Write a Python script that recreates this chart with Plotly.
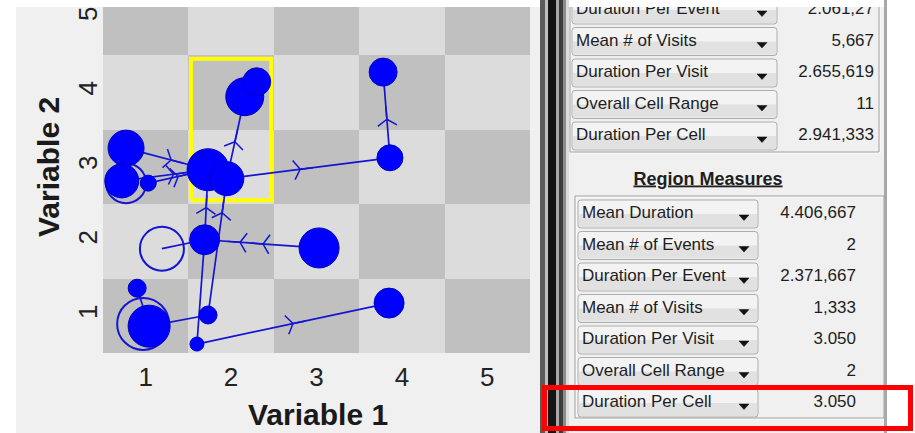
import plotly.graph_objects as go

W, H = 915, 433

# ---------------- data ----------------
grid_values = [1, 2, 3, 4, 5]
tick_text = ["1", "2", "3", "4", "5"]
x_title = "Variable 1"
y_title = "Variable 2"

# trajectory nodes (state space grid positions, jittered inside cells)
node_x = [0.77, 0.72, 1.03, 1.73, 1.95, 2.16, 2.30, 3.78, 3.86, 3.03, 3.85, 1.69, 1.19, 1.04, 0.90, 1.73, 1.60]
node_y = [3.25, 2.81, 2.78, 2.96, 2.84, 3.94, 4.14, 4.27, 3.12, 1.91, 1.17, 2.02, 1.90, 0.86, 1.37, 1.01, 0.62]
node_duration = [9, 8.5, 4, 10.5, 8.5, 9.5, 7, 7, 6.5, 10, 7.5, 7.5, 11, 10.5, 4.5, 4.5, 3.5]
node_filled = [1, 1, 1, 1, 1, 1, 1, 1, 1, 1, 1, 1, 0, 1, 1, 1, 1]

# return-visit rings
ring_x = [0.77, 0.97]
ring_y = [2.78, 0.89]
ring_duration = [10, 13]

# transitions (from node, to node, arrow positions along the edge)
edge_from = [0, 1, 2, 4, 4, 8, 11, 15, 9, 12, 13, 14, 16, 11]
edge_to = [3, 3, 3, 5, 8, 7, 3, 4, 11, 11, 15, 13, 10, 16]
edge_arrows = [[0.55], [0.6], [0.5], [0.45], [0.45], [0.45], [0.46], [0.75], [0.49, 0.69], [], [], [], [0.5], []]

selected_region = [1.5, 2.5, 2.5, 4.5]  # x0, x1, y0, y1

overall_labels = ["Duration Per Event", "Mean # of Visits", "Duration Per Visit", "Overall Cell Range", "Duration Per Cell"]
overall_values = ["2.061,27", "5,667", "2.655,619", "11", "2.941,333"]
region_title = "Region Measures"
region_labels = ["Mean Duration", "Mean # of Events", "Duration Per Event", "Mean # of Visits",
                 "Duration Per Visit", "Overall Cell Range", "Duration Per Cell"]
region_values = ["4.406,667", "2", "2.371,667", "1,333", "3.050", "2", "3.050"]

# ---------------- styles ----------------
FONT = "Liberation Sans, Arial, sans-serif"
BLUE = "#0000ff"
LINE_BLUE = "#1414d2"
SIZE_PER_UNIT = 4


def px(x):
    return x / W


def py(y):
    return 1 - y / H


fig = go.Figure()

# checkerboard
z = [[1 if (gx + gy) % 2 == 0 else 0 for gx in grid_values] for gy in grid_values]
fig.add_trace(go.Heatmap(x=grid_values, y=grid_values, z=z, zmin=0, zmax=1,
                         colorscale=[[0, "#dcdcdc"], [1, "#c0c0c0"]], showscale=False, hoverinfo="skip"))

# selected region outline
rx0, rx1, ry0, ry1 = selected_region
ix, iy = 0.03, 0.05
fig.add_trace(go.Scatter(x=[rx0 + ix, rx1 - ix, rx1 - ix, rx0 + ix, rx0 + ix],
                         y=[ry0 + iy, ry0 + iy, ry1 - iy, ry1 - iy, ry0 + iy],
                         mode="lines", line=dict(color="#ffff00", width=4), hoverinfo="skip", showlegend=False))

# edges with arrow chevrons
for f, t, arrows in zip(edge_from, edge_to, edge_arrows):
    x0, y0, x1, y1 = node_x[f], node_y[f], node_x[t], node_y[t]
    xs = [x0] + [x0 + a * (x1 - x0) for a in arrows] + [x1]
    ys = [y0] + [y0 + a * (y1 - y0) for a in arrows] + [y1]
    sizes = [0] + [16] * len(arrows) + [0]
    fig.add_trace(go.Scatter(x=xs, y=ys, mode="lines+markers",
                             line=dict(color=LINE_BLUE, width=1.7),
                             marker=dict(symbol="y-up-open", size=sizes, angleref="previous", opacity=1,
                                         color=LINE_BLUE, line=dict(color=LINE_BLUE, width=1.5)),
                             hoverinfo="skip", showlegend=False))

# rings
fig.add_trace(go.Scatter(x=ring_x, y=ring_y, mode="markers",
                         marker=dict(size=[d * SIZE_PER_UNIT for d in ring_duration], color="rgba(0,0,0,0)",
                                     opacity=1, line=dict(color=LINE_BLUE, width=2)),
                         hoverinfo="skip", showlegend=False))

# nodes
hx = [x for x, fl in zip(node_x, node_filled) if not fl]
hy = [y for y, fl in zip(node_y, node_filled) if not fl]
hs = [d * SIZE_PER_UNIT for d, fl in zip(node_duration, node_filled) if not fl]
fig.add_trace(go.Scatter(x=hx, y=hy, mode="markers",
                         marker=dict(size=hs, color="rgba(0,0,0,0)", opacity=1,
                                     line=dict(color=LINE_BLUE, width=2)),
                         hoverinfo="skip", showlegend=False))
fx = [x for x, fl in zip(node_x, node_filled) if fl]
fy = [y for y, fl in zip(node_y, node_filled) if fl]
fs = [d * SIZE_PER_UNIT for d, fl in zip(node_duration, node_filled) if fl]
fig.add_trace(go.Scatter(x=fx, y=fy, mode="markers",
                         marker=dict(size=fs, color=BLUE, opacity=1, line=dict(color="#0000c0", width=1)),
                         hoverinfo="skip", showlegend=False))

# ---------------- measures panel ----------------
shapes = []


def rounded_path(x0, y0, x1, y1, r):
    return (f"M{x0 + r},{y0} L{x1 - r},{y0} Q{x1},{y0} {x1},{y0 + r} L{x1},{y1 - r} "
            f"Q{x1},{y1} {x1 - r},{y1} L{x0 + r},{y1} Q{x0},{y1} {x0},{y1 - r} "
            f"L{x0},{y0 + r} Q{x0},{y0} {x0 + r},{y0} Z")


def add_button(x0, x1, cy, arrow_x):
    y0, y1 = cy - 14, cy + 14
    shapes.append(dict(type="path", xref="x2", yref="y2", layer="below",
                       path=rounded_path(x0, y0, x1, y1, 3), fillcolor="#f3f3f3", line=dict(width=0)))
    shapes.append(dict(type="rect", xref="x2", yref="y2", layer="below",
                       x0=x0 + 1, x1=x1 - 1, y0=cy, y1=y1 - 1, fillcolor="#e1e1e1", line=dict(width=0)))
    shapes.append(dict(type="path", xref="x2", yref="y2", layer="below",
                       path=rounded_path(x0, y0, x1, y1, 3), fillcolor="rgba(0,0,0,0)",
                       line=dict(color="#adadad", width=1)))
    shapes.append(dict(type="path", xref="x2", yref="y2", layer="below",
                       path=f"M{arrow_x - 5},{cy + 1} L{arrow_x + 5},{cy + 1} L{arrow_x},{cy + 6.5} Z",
                       fillcolor="#111111", line=dict(color="#111111", width=0.5)))


# group boxes
for (bx0, bx1, by0, by1) in [(570, 879, -10, 152), (575, 884, 196, 418)]:
    shapes.append(dict(type="rect", xref="x2", yref="y2", layer="below", x0=bx0 + 1, x1=bx1 + 1,
                       y0=by0 + 1, y1=by1 + 1, line=dict(color="#ffffff", width=1), fillcolor="rgba(0,0,0,0)"))
    shapes.append(dict(type="rect", xref="x2", yref="y2", layer="below", x0=bx0, x1=bx1,
                       y0=by0, y1=by1, line=dict(color="#a0a0a0", width=1), fillcolor="rgba(0,0,0,0)"))

up_cy = [10 + 31.5 * i for i in range(len(overall_labels))]
lo_cy = [214 + 31.5 * i for i in range(len(region_labels))]
for cy in up_cy:
    add_button(572, 777, cy, 762)
for cy in lo_cy:
    add_button(578, 758, cy, 744)

text_font = dict(family=FONT, size=17, color="#1e1e1e")
fig.add_trace(go.Scatter(x=[576] * len(up_cy), y=up_cy, text=overall_labels, mode="text",
                         textposition="middle right", textfont=text_font, xaxis="x2", yaxis="y2",
                         hoverinfo="skip", showlegend=False))
fig.add_trace(go.Scatter(x=[874] * len(up_cy), y=up_cy, text=overall_values, mode="text",
                         textposition="middle left", textfont=text_font, xaxis="x2", yaxis="y2",
                         hoverinfo="skip", showlegend=False))
fig.add_trace(go.Scatter(x=[582] * len(lo_cy), y=lo_cy, text=region_labels, mode="text",
                         textposition="middle right", textfont=text_font, xaxis="x2", yaxis="y2",
                         hoverinfo="skip", showlegend=False))
fig.add_trace(go.Scatter(x=[856] * len(lo_cy), y=lo_cy, text=region_values, mode="text",
                         textposition="middle left", textfont=text_font, xaxis="x2", yaxis="y2",
                         hoverinfo="skip", showlegend=False))
fig.add_trace(go.Scatter(x=[708], y=[180], text=[f"<b><u>{region_title}</u></b>"], mode="text",
                         textposition="middle center",
                         textfont=dict(family=FONT, size=18, color="#1e1e1e"),
                         xaxis="x2", yaxis="y2", hoverinfo="skip", showlegend=False))

# paper-level decoration
shapes.append(dict(type="rect", xref="paper", yref="paper", layer="below",
                   x0=px(16), x1=px(540), y0=py(433), y1=py(7), fillcolor="#f0f0f0", line=dict(width=0)))
frame = [(540, 545, "#5a5a5a"), (545, 548, "#bdbdbd"), (548, 556, "#141414"), (556, 559, "#a8a8a8"),
         (559, 563, "#3c3c3c"), (563, 566, "#8c8c8c"), (566, 569, "#dcdcdc")]
for a, b, c in frame:
    shapes.append(dict(type="rect", xref="paper", yref="paper", layer="above",
                       x0=px(a), x1=px(b), y0=0, y1=1, fillcolor=c, line=dict(width=0)))
shapes.append(dict(type="rect", xref="paper", yref="paper", layer="above",
                   x0=px(884), x1=px(887), y0=0, y1=1, fillcolor="#a8a8a8", line=dict(width=0)))
shapes.append(dict(type="rect", xref="paper", yref="paper", layer="above",
                   x0=px(887), x1=1, y0=0, y1=1, fillcolor="#ffffff", line=dict(width=0)))
shapes.append(dict(type="rect", xref="paper", yref="paper", layer="above",
                   x0=px(544.5), x1=px(910.5), y0=py(428.5), y1=py(387.5),
                   fillcolor="rgba(0,0,0,0)", line=dict(color="#ff0000", width=5)))

annotations = [
    dict(text=f"<b>{x_title}</b>", xref="paper", yref="paper", x=px(318), y=py(414),
         xanchor="center", yanchor="middle", showarrow=False,
         font=dict(family=FONT, size=30, color="#1a1a1a")),
    dict(text=f"<b>{y_title}</b>", xref="paper", yref="paper", x=px(48), y=py(167),
         xanchor="center", yanchor="middle", showarrow=False, textangle=-90,
         font=dict(family=FONT, size=30, color="#1a1a1a")),
]

fig.update_layout(
    width=W, height=H, autosize=False,
    margin=dict(l=0, r=0, t=0, b=0),
    paper_bgcolor="#ffffff", plot_bgcolor="#f0f0f0",
    showlegend=False,
    shapes=shapes, annotations=annotations,
    xaxis=dict(domain=[px(103), px(530)], range=[0.5, 5.5], tickvals=grid_values, ticktext=tick_text,
               showgrid=False, zeroline=False, showline=False, ticks="", ticklabelstandoff=6,
               tickfont=dict(family=FONT, size=26, color="#222222"), fixedrange=True),
    yaxis=dict(domain=[py(353), py(7)], range=[0.5, 5.144], tickvals=grid_values, ticktext=tick_text,
               showgrid=False, zeroline=False, showline=False, ticks="", tickangle=-90, ticklabelstandoff=0,
               tickfont=dict(family=FONT, size=26, color="#222222"), fixedrange=True),
    xaxis2=dict(domain=[px(566), px(887)], range=[566, 887], visible=False, anchor="y2", fixedrange=True),
    yaxis2=dict(domain=[0, py(7)], range=[433, 7], visible=False, anchor="x2", fixedrange=True),
)

fig.write_html("out.html", config={"displayModeBar": False},
               post_script="document.body.style.margin='0';document.body.style.overflow='hidden';")
